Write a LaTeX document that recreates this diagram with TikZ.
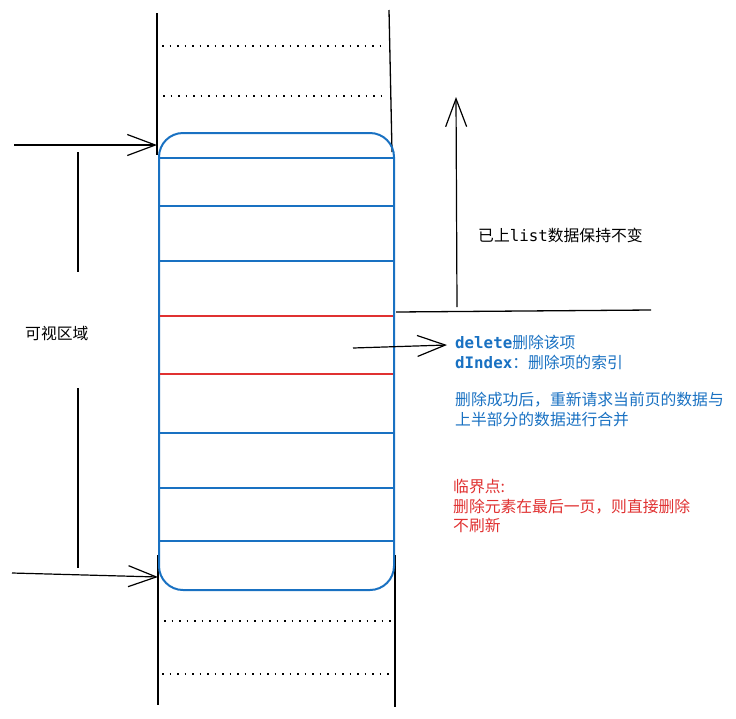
\documentclass[tikz,border=0pt]{standalone}
\usepackage{fontspec}
\setmainfont{Noto Sans CJK SC}
\newfontfamily\codefont{DejaVu Sans Mono}
\usepackage{xcolor}
\usetikzlibrary{arrows.meta, positioning, calc}

\definecolor{listblue}{HTML}{1971C2}
\definecolor{cutred}{HTML}{E03131}

\tikzset{
  frameline/.style={line width=1.3pt, black},
  dotline/.style={line width=1.4pt, dash pattern=on 1.5pt off 6pt},
  listbox/.style={line width=2pt, listblue},
  rowline/.style={line width=1.3pt, listblue},
  redrow/.style={line width=1.3pt, cutred},
  arr/.style={line width=1.2pt, -{Straight Barb[length=28pt, width=21pt]}},
  note/.style={inner sep=0pt, font=\fontsize{15.8}{19.5}\selectfont, align=left}
}

\begin{document}
\begin{tikzpicture}[x=1pt, y=-1pt]
    \useasboundingbox (0,0) rectangle (736,718);

    % List above the view: kept as it is
    \draw[frameline] (157,13) -- (157,155);
    \draw[frameline] (389,10) -- (392,152);
    \draw[dotline] (162,46) -- (386,46);
    \draw[dotline] (163,96) -- (388,96);

    % List below the view
    \draw[frameline] (158,555) -- (158,705);
    \draw[frameline] (395,555) -- (395,707);
    \draw[dotline] (164,621) -- (392,621);
    \draw[dotline] (162,674) -- (392,674);

    % Visible area with its rows
    \draw[listbox, rounded corners=24pt] (159,133) rectangle (394,590);
    \foreach \y in {158,206,261,433,488,541}
        \draw[rowline] (160,\y) -- (393,\y);
    \foreach \y in {316,374}
        \draw[redrow] (160,\y) -- (393,\y);

    % Bounds of the visible area
    \coordinate (topfrom) at (14,145);
    \coordinate (topto) at (157,145);
    \coordinate (botfrom) at (12,573);
    \coordinate (botto) at (158,577);
    \draw[arr] (topfrom) -- (topto);
    \draw[arr] (botfrom) -- (botto);

    \node[note, anchor=west] (viewlabel) at (25,334) {可视区域};
    \draw[frameline] (78,152) -- (78,272);
    \draw[frameline] (78,388) -- (78,568);

    % Upper part stays unchanged
    \draw[frameline] (396,312) -- (651,310);
    \coordinate (upfrom) at (457,307);
    \coordinate (upto) at (456,97);
    \draw[arr] (upfrom) -- (upto);
    \node[note, anchor=west] (keepnote) at (478,235) {已上{\codefont list}数据保持不变};

    % Deleting a row
    \node[note, anchor=north west, text=listblue] (delnote) at (455,335)
        {{\codefont\bfseries delete}删除该项\\{\codefont\bfseries dIndex}：删除项的索引};
    \coordinate (delfrom) at (353,348);
    \draw[arr] (delfrom) -- ($(delnote.north west)+(-8,10)$);

    \node[note, anchor=north west, text=listblue] (reloadnote) at (455,392)
        {删除成功后，重新请求当前页的数据与\\上半部分的数据进行合并};

    % Edge case
    \node[note, anchor=north west, text=cutred] (edgenote) at (453,479)
        {临界点:\\删除元素在最后一页，则直接删除\\不刷新};

\end{tikzpicture}
\end{document}
